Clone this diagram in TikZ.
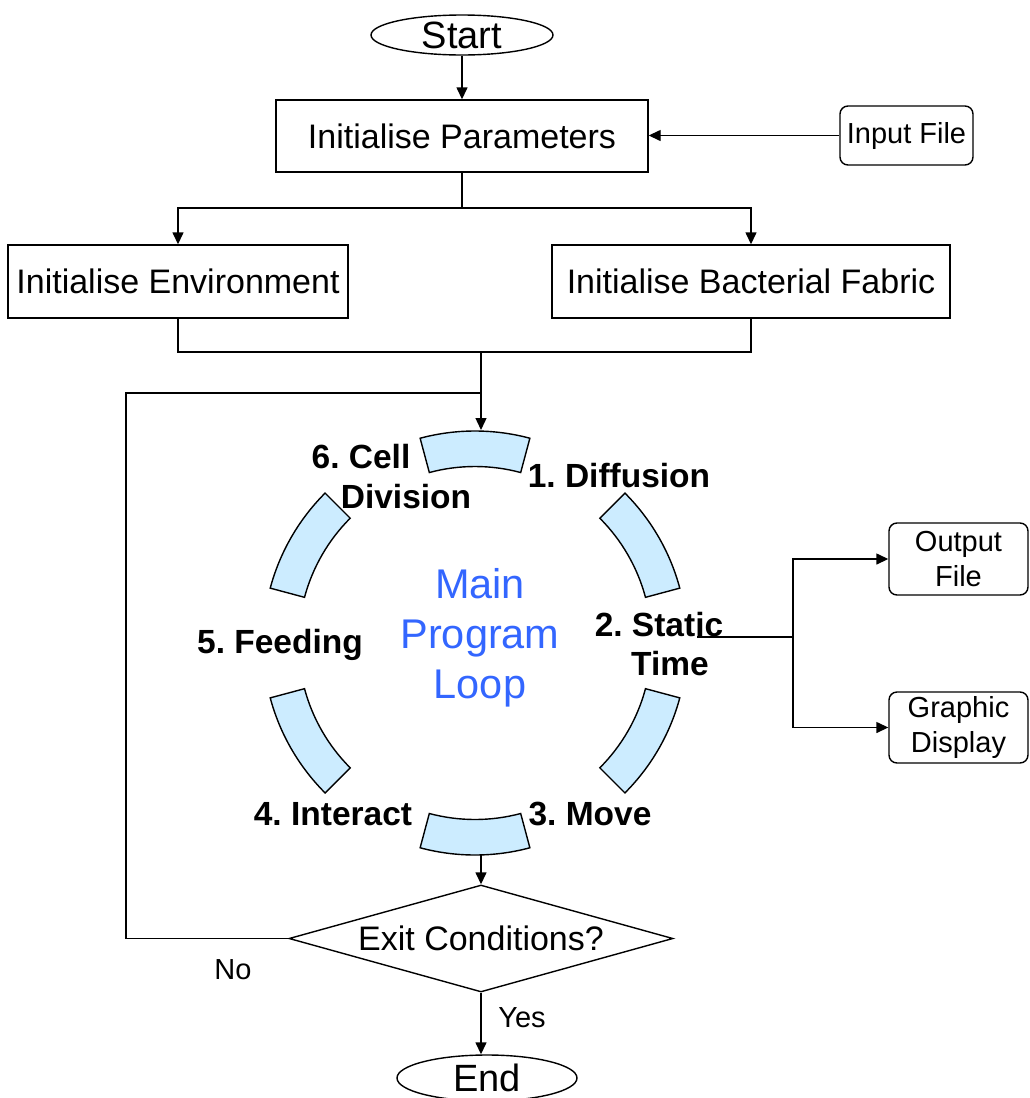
\documentclass[tikz,border=0pt]{standalone}
\usepackage{fontspec}
\setmainfont{Liberation Sans}
\usetikzlibrary{arrows.meta,shapes.geometric}
\definecolor{segfill}{RGB}{204,236,255}
\definecolor{loopblue}{RGB}{51,102,255}
\frenchspacing
\begin{document}
\begin{tikzpicture}[x=1pt,y=1pt,
 line width=1.4pt,
 arr/.style={-{Triangle[length=12pt,width=11pt]}},
 box/.style={draw, rectangle, inner sep=0pt, font=\fontsize{34}{40}\selectfont},
 rbox/.style={draw, rectangle, rounded corners=8pt, inner sep=0pt, align=center, font=\fontsize{29}{35}\selectfont},
 term/.style={draw, ellipse, inner sep=0pt, font=\fontsize{38}{44}\selectfont},
 seg/.style={draw, fill=segfill, line width=1.4pt},
 lab/.style={inner sep=0pt, font=\bfseries\fontsize{33.5}{40}\selectfont},
 plain/.style={inner sep=0pt, font=\fontsize{29}{35}\selectfont},
 ]
\useasboundingbox (0,0) rectangle (1029,-1098);

% nodes
\node[term, minimum width=182pt, minimum height=40pt] (start) at (462,-35) {Start};
\node[box, minimum width=372pt, minimum height=72pt] (params) at (462,-136) {Initialise Parameters};
\node[rbox, minimum width=133pt, minimum height=59pt] (input) at (906.5,-135.5) {Input File};
\node[box, minimum width=340pt, minimum height=73pt] (env) at (178,-281.5) {Initialise Environment};
\node[box, minimum width=398pt, minimum height=73pt] (fabric) at (751,-281.5) {Initialise Bacterial Fabric};
\node[rbox, minimum width=139pt, minimum height=72pt] (output) at (958.5,-559) {Output\\File};
\node[rbox, minimum width=139pt, minimum height=71pt] (graphic) at (958.5,-727.5) {Graphic\\Display};
\node[draw, diamond, aspect=3.6, inner sep=0pt, minimum width=384pt, minimum height=107pt,
      font=\fontsize{34}{40}\selectfont] (exit) at (481,-938.5) {Exit Conditions?};
\node[term, minimum width=180pt, minimum height=46pt] (end) at (487,-1078) {End};

% loop segments
\foreach \a in {90,30,-30,-90,-150,150}{
  \draw[seg, shift={(475,-643)}] (\a-15:212) arc[start angle=\a-15, end angle=\a+15, radius=212]
     -- (\a+15:176.5) arc[start angle=\a+15, end angle=\a-15, radius=176.5] -- cycle;
}
\coordinate (loopin) at (481,-430);
\coordinate (loopout) at (481,-855);

% labels
\node[lab] (l6a) at (361,-457) {6. Cell};
\node[lab] (l6b) at (406,-497) {Division};
\node[lab] (l1) at (619,-476) {1. Diffusion};
\node[lab] (l2a) at (659,-625) {2. Static};
\node[lab] (l2b) at (670,-664) {Time};
\node[lab] (l5) at (280,-645) {5. Feeding};
\node[lab] (l4) at (333,-814) {4. Interact};
\node[lab] (l3) at (590,-814) {3. Move};
\node[inner sep=0pt, text=loopblue, align=center, font=\fontsize{41.5}{50}\selectfont] (main) at (480,-638) {Main\\Program\\Loop};
\node[plain] (no) at (233,-970) {No};
\node[plain] (yes) at (522,-1018) {Yes};

% connectors
\draw[arr] (start) -- (params);
\draw[arr] (input.west) -- (params.east |- input.west);
\coordinate (split) at (462,-208);
\draw (params.south) -- (split);
\draw[arr] (split) -| (env.north);
\draw[arr] (split) -| (fabric.north);
\coordinate (merge) at (481,-352);
\draw (env.south) |- (merge);
\draw (fabric.south) |- (merge);
\draw[arr] (merge) -- (loopin);
\coordinate (loopjoin) at (481,-393);
\coordinate (back) at (126,-393);
\draw (exit.west) -| (back) -- (loopjoin);
\draw[arr] (loopout) -- (exit.north);
\draw[arr] (exit.south) -- (exit.south |- end.north);
\coordinate (st) at (697,-637);
\coordinate (fork) at (793,-637);
\draw (st) -- (fork);
\draw[arr] (fork) |- (output.west);
\draw[arr] (fork) |- (graphic.west);
\end{tikzpicture}
\end{document}
